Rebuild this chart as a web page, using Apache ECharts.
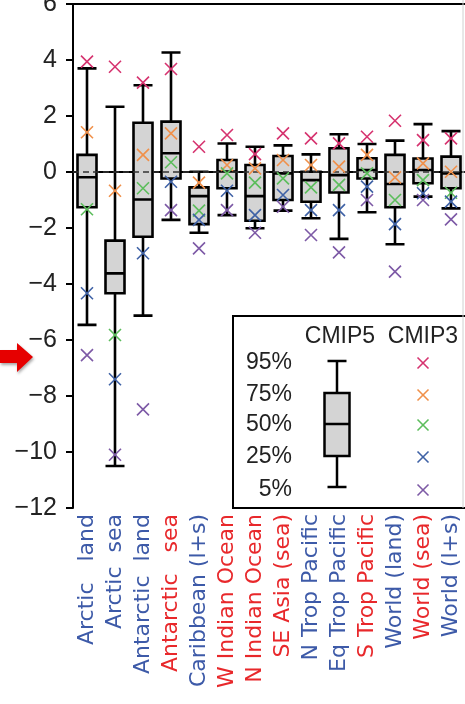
<!DOCTYPE html>
<html><head><meta charset="utf-8">
<script src="https://cdn.jsdelivr.net/npm/echarts@6/dist/echarts.min.js"></script>
<style>html,body{margin:0;padding:0;background:#fff}#c{width:465px;height:704px}</style>
</head><body><div id="c"></div>
<script>
var categories = ['Arctic   land','Arctic  sea','Antarctic  land','Antarctic   sea','Caribbean (l+s)','W Indian Ocean','N Indian Ocean','SE Asia (sea)','N Trop Pacific','Eq Trop Pacific','S Trop Pacific','World (land)','World (sea)','World (l+s)'];
var labelColors = ['blue','blue','blue','red','blue','red','red','red','blue','blue','red','blue','red','blue'];
// CMIP5 box statistics
var cmip5_p95 = [3.7, 2.33, 3.1, 4.27, 0.01, 1.02, 0.9, 0.95, 0.63, 1.35, 1.0, 1.12, 1.71, 1.46];
var cmip5_p75 = [0.61, -2.45, 1.76, 1.8, -0.55, 0.43, 0.25, 0.57, 0.01, 0.85, 0.49, 0.61, 0.48, 0.55];
var cmip5_p50 = [-0.19, -3.62, -0.98, 0.67, -0.86, 0.02, -0.86, -0.05, -0.29, -0.11, 0.07, -0.43, 0.07, -0.05];
var cmip5_p25 = [-1.26, -4.33, -2.31, -0.23, -1.86, -0.58, -1.74, -1.0, -1.06, -0.73, -0.23, -1.26, -0.4, -0.58];
var cmip5_p5  = [-5.46, -10.5, -5.13, -1.71, -2.17, -1.54, -2.01, -1.38, -1.65, -2.39, -1.44, -2.58, -0.88, -1.3];
// CMIP3 percentiles
var cmip3_p95 = [3.94, 3.76, 3.19, 3.68, 0.9, 1.32, 0.64, 1.38, 1.2, 1.02, 1.26, 1.83, 1.14, 1.2];
var cmip3_p75 = [1.42, -0.67, 0.61, 1.38, -0.38, 0.25, 0.13, 0.43, 0.25, 0.19, 0.61, -0.19, 0.31, 0.01];
var cmip3_p50 = [-1.33, -5.82, -0.58, 0.35, -1.38, -0.05, -0.38, -0.23, -0.55, -0.46, -0.05, -1.0, -0.29, -0.74];
var cmip3_p25 = [-4.33, -7.4, -2.9, -0.35, -1.71, -0.67, -1.54, -0.82, -1.36, -1.36, -0.52, -1.86, -0.76, -1.06];
var cmip3_p5  = [-6.54, -10.1, -8.48, -1.36, -2.73, -1.36, -2.17, -1.24, -2.25, -2.87, -1.0, -3.56, -1.0, -1.69];
var yTicks = [-12, -10, -8, -6, -4, -2, 0, 2, 4, 6];
var legendRows = ['95%', '75%', '50%', '25%', '5%'];

var COL = {blue:'#3d5aa8', red:'#e8282b'};
var crossCols = ['#d6336f', '#f0904a', '#5cbd5c', '#3f62a6', '#7d5aa6'];
var CROSS = 'path://M0,0L10,10M10,0L0,10';

var boxData = categories.map(function(c, i){
  return [cmip5_p5[i], cmip5_p25[i], cmip5_p50[i], cmip5_p75[i], cmip5_p95[i]];
});
var cm3 = [cmip3_p95, cmip3_p75, cmip3_p50, cmip3_p25, cmip3_p5];

var richLabels = {};
richLabels.blue = {color: COL.blue, fontFamily: 'DejaVu Sans', fontSize: 22};
richLabels.red = {color: COL.red, fontFamily: 'DejaVu Sans', fontSize: 22};

var series = [{
  type: 'boxplot',
  data: boxData,
  boxWidth: [19, 19],
  z: 2,
  itemStyle: {color: '#d4d4d4', borderColor: '#000', borderWidth: 2.6},
  emphasis: {disabled: true},
  markLine: {
    silent: true, symbol: 'none', z: 3,
    label: {show: false},
    lineStyle: {color: '#333', width: 1.6, type: [6, 4]},
    data: [{yAxis: 0}]
  }
}];
cm3.forEach(function(arr, k){
  series.push({
    type: 'scatter', z: 5,
    data: arr.map(function(v, i){ return [i, v]; }),
    symbol: CROSS, symbolSize: 12,
    itemStyle: {color: 'none', borderColor: crossCols[k], borderWidth: 1.6, opacity: 1},
    emphasis: {disabled: true}
  });
});

// legend graphics
var lg = [];
lg.push({type:'rect', shape:{x:233, y:316, width:240, height:192}, style:{fill:'#fff', stroke:'#000', lineWidth:2}, z: 10});
var tf = 'Liberation Sans';
lg.push({type:'text', x:340, y:337, style:{text:'CMIP5', font:'23px "'+tf+'"', fill:'#222', textAlign:'center', textVerticalAlign:'middle'}, z: 11});
lg.push({type:'text', x:423, y:337, style:{text:'CMIP3', font:'23px "'+tf+'"', fill:'#222', textAlign:'center', textVerticalAlign:'middle'}, z: 11});
var rowY = [363, 395, 425, 457, 490];
legendRows.forEach(function(t, k){
  lg.push({type:'text', x:292, y:rowY[k], style:{text:t, font:'23px "'+tf+'"', fill:'#222', textAlign:'right', textVerticalAlign:'middle'}, z: 11});
  var cx = 423, cy = rowY[k], h = 5.5;
  lg.push({type:'polyline', shape:{points:[[cx-h,cy-h],[cx+h,cy+h]]}, style:{stroke:crossCols[k], lineWidth:1.6, fill:null}, z: 11});
  lg.push({type:'polyline', shape:{points:[[cx+h,cy-h],[cx-h,cy+h]]}, style:{stroke:crossCols[k], lineWidth:1.6, fill:null}, z: 11});
});
var bx = 337;
lg.push({type:'line', shape:{x1:bx, y1:361, x2:bx, y2:487}, style:{stroke:'#000', lineWidth:2.5}, z: 11});
lg.push({type:'line', shape:{x1:bx-9.5, y1:361, x2:bx+9.5, y2:361}, style:{stroke:'#000', lineWidth:2.5}, z: 11});
lg.push({type:'line', shape:{x1:bx-9.5, y1:487, x2:bx+9.5, y2:487}, style:{stroke:'#000', lineWidth:2.5}, z: 11});
lg.push({type:'rect', shape:{x:bx-12.5, y:393, width:25, height:63}, style:{fill:'#d4d4d4', stroke:'#000', lineWidth:2.5}, z: 12});
lg.push({type:'line', shape:{x1:bx-12.5, y1:424, x2:bx+12.5, y2:424}, style:{stroke:'#000', lineWidth:2.5}, z: 13});
// right edge faint line
lg.push({type:'line', shape:{x1:463, y1:0, x2:463, y2:508}, style:{stroke:'#d0d0d0', lineWidth:1}, z: 14});
// red arrow
lg.push({type:'polygon', shape:{points:[[0,350],[17,350],[17,343],[33,357],[17,372],[17,363],[0,363]]},
  style:{fill:'#e60000', shadowBlur:3, shadowColor:'rgba(0,0,0,0.35)', shadowOffsetX:1, shadowOffsetY:2}, z: 10});

var chart = echarts.init(document.getElementById('c'), null, {renderer:'canvas'});
chart.setOption({
  animation: false,
  backgroundColor: '#fff',
  grid: {left: 73, top: 4, right: 0, bottom: 196, containLabel: false, outerBoundsMode: 'none'},
  xAxis: [{
    type: 'category', data: categories, position: 'bottom',
    axisLine: {lineStyle: {color: '#000', width: 2}},
    axisTick: {show: false},
    axisLabel: {
      rotate: 90, margin: 6, interval: 0,
      formatter: function(v, i){ return '{' + labelColors[i] + '|' + v + '}'; },
      rich: richLabels
    },
    splitLine: {show: false}
  }, {
    type: 'category', data: categories, position: 'top',
    axisLine: {lineStyle: {color: '#000', width: 2}},
    axisTick: {show: false}, axisLabel: {show: false}
  }],
  yAxis: {
    type: 'value', min: -12, max: 6, interval: 2,
    axisLine: {show: true, lineStyle: {color: '#000', width: 2}},
    axisTick: {show: true, inside: false, length: 7, lineStyle: {color: '#000', width: 2}},
    axisLabel: {
      margin: 16, color: '#222', fontFamily: 'Liberation Sans', fontSize: 25,
      formatter: function(v){ return yTicks.indexOf(v) >= 0 ? String(v).replace('-', '\u2212') : ''; }
    },
    splitLine: {show: false}
  },
  series: series,
  graphic: lg
});
</script></body></html>
